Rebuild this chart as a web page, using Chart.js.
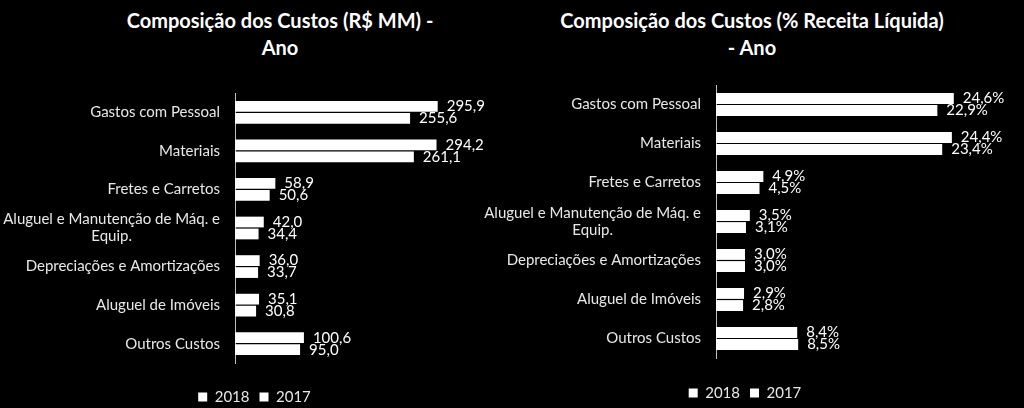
<!DOCTYPE html>
<html>
<head>
<meta charset="utf-8">
<script src="https://cdn.jsdelivr.net/npm/chart.js@4.4.1/dist/chart.umd.min.js"></script>
<style>
  body { margin: 0; background: #000; width: 1024px; height: 408px; overflow: hidden; position: relative; font-family: Lato, sans-serif; }
  .title { position: absolute; top: 7px; color: #fff; font-weight: bold; font-size: 20px; line-height: 27px; text-align: center; white-space: nowrap; transform: translateX(-50%); }
  .box { position: absolute; top: 0; }
</style>
</head>
<body>
<div class="title" style="left:280px">Composição dos Custos (R$ MM) -<br>Ano</div>
<div class="title" style="left:752px">Composição dos Custos (% Receita Líquida)<br>- Ano</div>
<div class="box" style="left:0px"><canvas id="chartMM" width="524" height="408"></canvas></div>
<div class="box" style="left:484px"><canvas id="chartPct" width="540" height="408"></canvas></div>
<script>
// === Data ===
const categories = [
  'Gastos com Pessoal',
  'Materiais',
  'Fretes e Carretos',
  ['Aluguel e Manutenção de Máq. e', 'Equip.'],
  'Depreciações e Amortizações',
  'Aluguel de Imóveis',
  'Outros Custos'
];
const seriesNames = ['2018', '2017'];
const custos2018 = [295.9, 294.2, 58.9, 42.0, 36.0, 35.1, 100.6];
const custos2017 = [255.6, 261.1, 50.6, 34.4, 33.7, 30.8, 95.0];
const receita2018 = [24.6, 24.4, 4.9, 3.5, 3.0, 2.9, 8.4];
const receita2017 = [22.9, 23.4, 4.5, 3.1, 3.0, 2.8, 8.5];

// === Plugins ===
// value next to the end of each bar, "295,9" / "24,6%"
const barValueLabels = {
  id: 'barValueLabels',
  afterDatasetsDraw(chart, args, opts) {
    const ctx = chart.ctx;
    ctx.save();
    ctx.fillStyle = '#ffffff';
    ctx.font = '15px Lato';
    ctx.textAlign = 'left';
    ctx.textBaseline = 'middle';
    chart.data.datasets.forEach((ds, i) => {
      chart.getDatasetMeta(i).data.forEach((bar, j) => {
        const txt = ds.data[j].toFixed(1).replace('.', ',') + (opts.suffix || '');
        ctx.fillText(txt, bar.x + 9, bar.y);
      });
    });
    ctx.restore();
  }
};

// category names, lines of a wrapped label centred on each other
const categoryLabels = {
  id: 'categoryLabels',
  afterDraw(chart) {
    const ctx = chart.ctx;
    const yScale = chart.scales.y;
    ctx.save();
    ctx.fillStyle = '#e8e8e8';
    ctx.font = '15px Lato';
    ctx.textAlign = 'center';
    ctx.textBaseline = 'middle';
    chart.data.labels.forEach((label, i) => {
      const lines = [].concat(label);
      const py = yScale.getPixelForValue(i);
      const w = Math.max(...lines.map(l => ctx.measureText(l).width));
      const cx = chart.chartArea.left - 15 - w / 2;
      lines.forEach((l, k) => ctx.fillText(l, cx, py + (k - (lines.length - 1) / 2) * 17));
    });
    ctx.restore();
  }
};

function legendShift(shift) {
  return {
    id: 'legendShift',
    beforeInit(chart) {
      const fit = chart.legend.fit;
      chart.legend.fit = function () {
        fit.bind(chart.legend)();
        this.height -= shift;
      };
    }
  };
}

function makeChart(id, v2018, v2017, cfg) {
  const ctx = document.getElementById(id).getContext('2d');
  return new Chart(ctx, {
    type: 'bar',
    data: {
      labels: categories,
      datasets: [
        { label: seriesNames[0], data: v2018, backgroundColor: '#ffffff', borderWidth: 0 },
        { label: seriesNames[1], data: v2017, backgroundColor: '#ffffff', borderWidth: 0 }
      ]
    },
    options: {
      indexAxis: 'y',
      responsive: false,
      animation: false,
      categoryPercentage: 0.62,
      barPercentage: 0.9,
      layout: { padding: { top: cfg.top, right: cfg.right, left: 0, bottom: 0 } },
      scales: {
        x: {
          min: 0,
          max: cfg.xMax,
          ticks: { display: false },
          grid: { display: false },
          border: { display: false },
          afterFit(scale) { scale.height = cfg.xAxisHeight; }
        },
        y: {
          ticks: { display: false },
          grid: { display: false },
          border: { display: true, color: '#bfbfbf', width: 1 },
          afterFit(scale) { scale.width = cfg.axisWidth; }
        }
      },
      plugins: {
        legend: {
          position: 'bottom',
          labels: {
            color: '#e8e8e8',
            font: { family: 'Lato', size: 15 },
            boxWidth: 9,
            boxHeight: 9,
            padding: 10
          }
        },
        tooltip: { enabled: false },
        barValueLabels: { suffix: cfg.suffix }
      }
    },
    plugins: [barValueLabels, categoryLabels, legendShift(cfg.legendShift)]
  });
}

makeChart('chartMM', custos2018, custos2017, {
  top: 93, right: 15, xMax: 400, axisWidth: 235, xAxisHeight: 16.5, legendShift: 6.5, suffix: ''
});
makeChart('chartPct', receita2018, receita2017, {
  top: 85, right: 18, xMax: 30, axisWidth: 232, xAxisHeight: 17.5, legendShift: 2.5, suffix: '%'
});
</script>
</body>
</html>
